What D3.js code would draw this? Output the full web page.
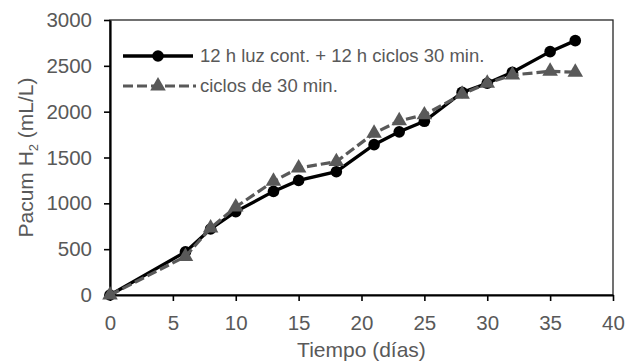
<!DOCTYPE html>
<html>
<head>
<meta charset="utf-8">
<script src="https://cdn.jsdelivr.net/npm/d3@7"></script>
<style>
  body { margin: 0; background: #fff; }
  svg { display: block; font-family: "Liberation Sans", Arial, sans-serif; }
  .tick text { fill: #595959; font-size: 20.5px; }
</style>
</head>
<body>
<div id="chart"></div>
<script>
// data
var days = [0, 6, 8, 10, 13, 15, 18, 21, 23, 25, 28, 30, 32, 35, 37];
var luzCont = [0, 470, 720, 910, 1130, 1250, 1345, 1640, 1780, 1895, 2210, 2310, 2430, 2655, 2775];
var ciclos = [0, 420, 730, 960, 1240, 1385, 1455, 1765, 1900, 1965, 2190, 2310, 2400, 2440, 2430];
var xTicks = [0, 5, 10, 15, 20, 25, 30, 35, 40];
var yTicks = [0, 500, 1000, 1500, 2000, 2500, 3000];
var seriesNames = ["12 h luz cont. + 12 h ciclos 30 min.", "ciclos de 30 min."];

var W = 637, H = 364;
var margin = { top: 20, right: 24, bottom: 69, left: 110 };
var width = W - margin.left - margin.right;
var height = H - margin.top - margin.bottom;

var svg = d3.select("#chart").append("svg")
    .attr("width", W)
    .attr("height", H);

var g = svg.append("g")
    .attr("transform", "translate(" + margin.left + "," + margin.top + ")");

var x = d3.scaleLinear().domain([0, 40]).range([0, width]);
var y = d3.scaleLinear().domain([0, 3000]).range([height, 0]);

// plot area border (top / right)
g.append("rect")
    .attr("width", width)
    .attr("height", height)
    .attr("fill", "none")
    .attr("stroke", "#262626")
    .attr("stroke-width", 1.3);

// axes
var xAxis = g.append("g")
    .attr("transform", "translate(0," + height + ")")
    .call(d3.axisBottom(x).tickValues(xTicks).tickSize(6).tickSizeOuter(0).tickPadding(14));
var yAxis = g.append("g")
    .call(d3.axisLeft(y).tickValues(yTicks).tickFormat(d3.format("d")).tickSize(6).tickSizeOuter(0).tickPadding(12));

[xAxis, yAxis].forEach(function (a) {
    a.select(".domain").attr("stroke", "#000").attr("stroke-width", 2.2);
    a.selectAll(".tick line").attr("stroke", "#000").attr("stroke-width", 1.6);
    a.attr("font-family", null).attr("font-size", null);
});

// series
var pts1 = days.map(function (d, i) { return [d, luzCont[i]]; });
var pts2 = days.map(function (d, i) { return [d, ciclos[i]]; });

var line = d3.line()
    .x(function (d) { return x(d[0]); })
    .y(function (d) { return y(d[1]); });

var tri = d3.symbol().type(d3.symbolTriangle).size(105);

g.append("path")
    .datum(pts1)
    .attr("d", line)
    .attr("fill", "none")
    .attr("stroke", "#000")
    .attr("stroke-width", 3.3);

g.selectAll("circle.s1")
    .data(pts1)
    .enter()
    .append("circle")
    .attr("class", "s1")
    .attr("cx", function (d) { return x(d[0]); })
    .attr("cy", function (d) { return y(d[1]); })
    .attr("r", 5.8)
    .attr("fill", "#000");

g.append("path")
    .datum(pts2)
    .attr("d", line)
    .attr("fill", "none")
    .attr("stroke", "#595959")
    .attr("stroke-width", 3.2)
    .attr("stroke-dasharray", "10,4");

g.selectAll("path.s2")
    .data(pts2)
    .enter()
    .append("path")
    .attr("class", "s2")
    .attr("d", tri)
    .attr("transform", function (d) { return "translate(" + x(d[0]) + "," + y(d[1]) + ")"; })
    .attr("fill", "#595959");

// legend
var leg = svg.append("g");
var rows = [56, 86];

leg.append("line")
    .attr("x1", 123).attr("x2", 193).attr("y1", rows[0]).attr("y2", rows[0])
    .attr("stroke", "#000").attr("stroke-width", 3.3);
leg.append("circle")
    .attr("cx", 158).attr("cy", rows[0]).attr("r", 5.8).attr("fill", "#000");

leg.append("line")
    .attr("x1", 123).attr("x2", 196).attr("y1", rows[1]).attr("y2", rows[1])
    .attr("stroke", "#595959").attr("stroke-width", 3.2)
    .attr("stroke-dasharray", "10,4");
leg.append("path")
    .attr("d", tri)
    .attr("transform", "translate(158," + rows[1] + ")")
    .attr("fill", "#595959");

leg.selectAll("text")
    .data(seriesNames)
    .enter()
    .append("text")
    .attr("x", 200)
    .attr("y", function (d, i) { return rows[i]; })
    .attr("dy", "0.35em")
    .attr("fill", "#595959")
    .attr("font-size", "18.5px")
    .text(function (d) { return d; });

// axis titles
svg.append("text")
    .attr("x", margin.left + width / 2)
    .attr("y", 357)
    .attr("text-anchor", "middle")
    .attr("fill", "#595959")
    .attr("font-size", "21px")
    .text("Tiempo (días)");

var yt = svg.append("text")
    .attr("transform", "translate(33," + (margin.top + height / 2) + ") rotate(-90)")
    .attr("text-anchor", "middle")
    .attr("fill", "#595959")
    .attr("font-size", "21px");
yt.append("tspan").text("Pacum H");
yt.append("tspan").attr("font-size", "13px").attr("dy", "5").text("2");
yt.append("tspan").attr("dy", "-5").text(" (mL/L)");
</script>
</body>
</html>
